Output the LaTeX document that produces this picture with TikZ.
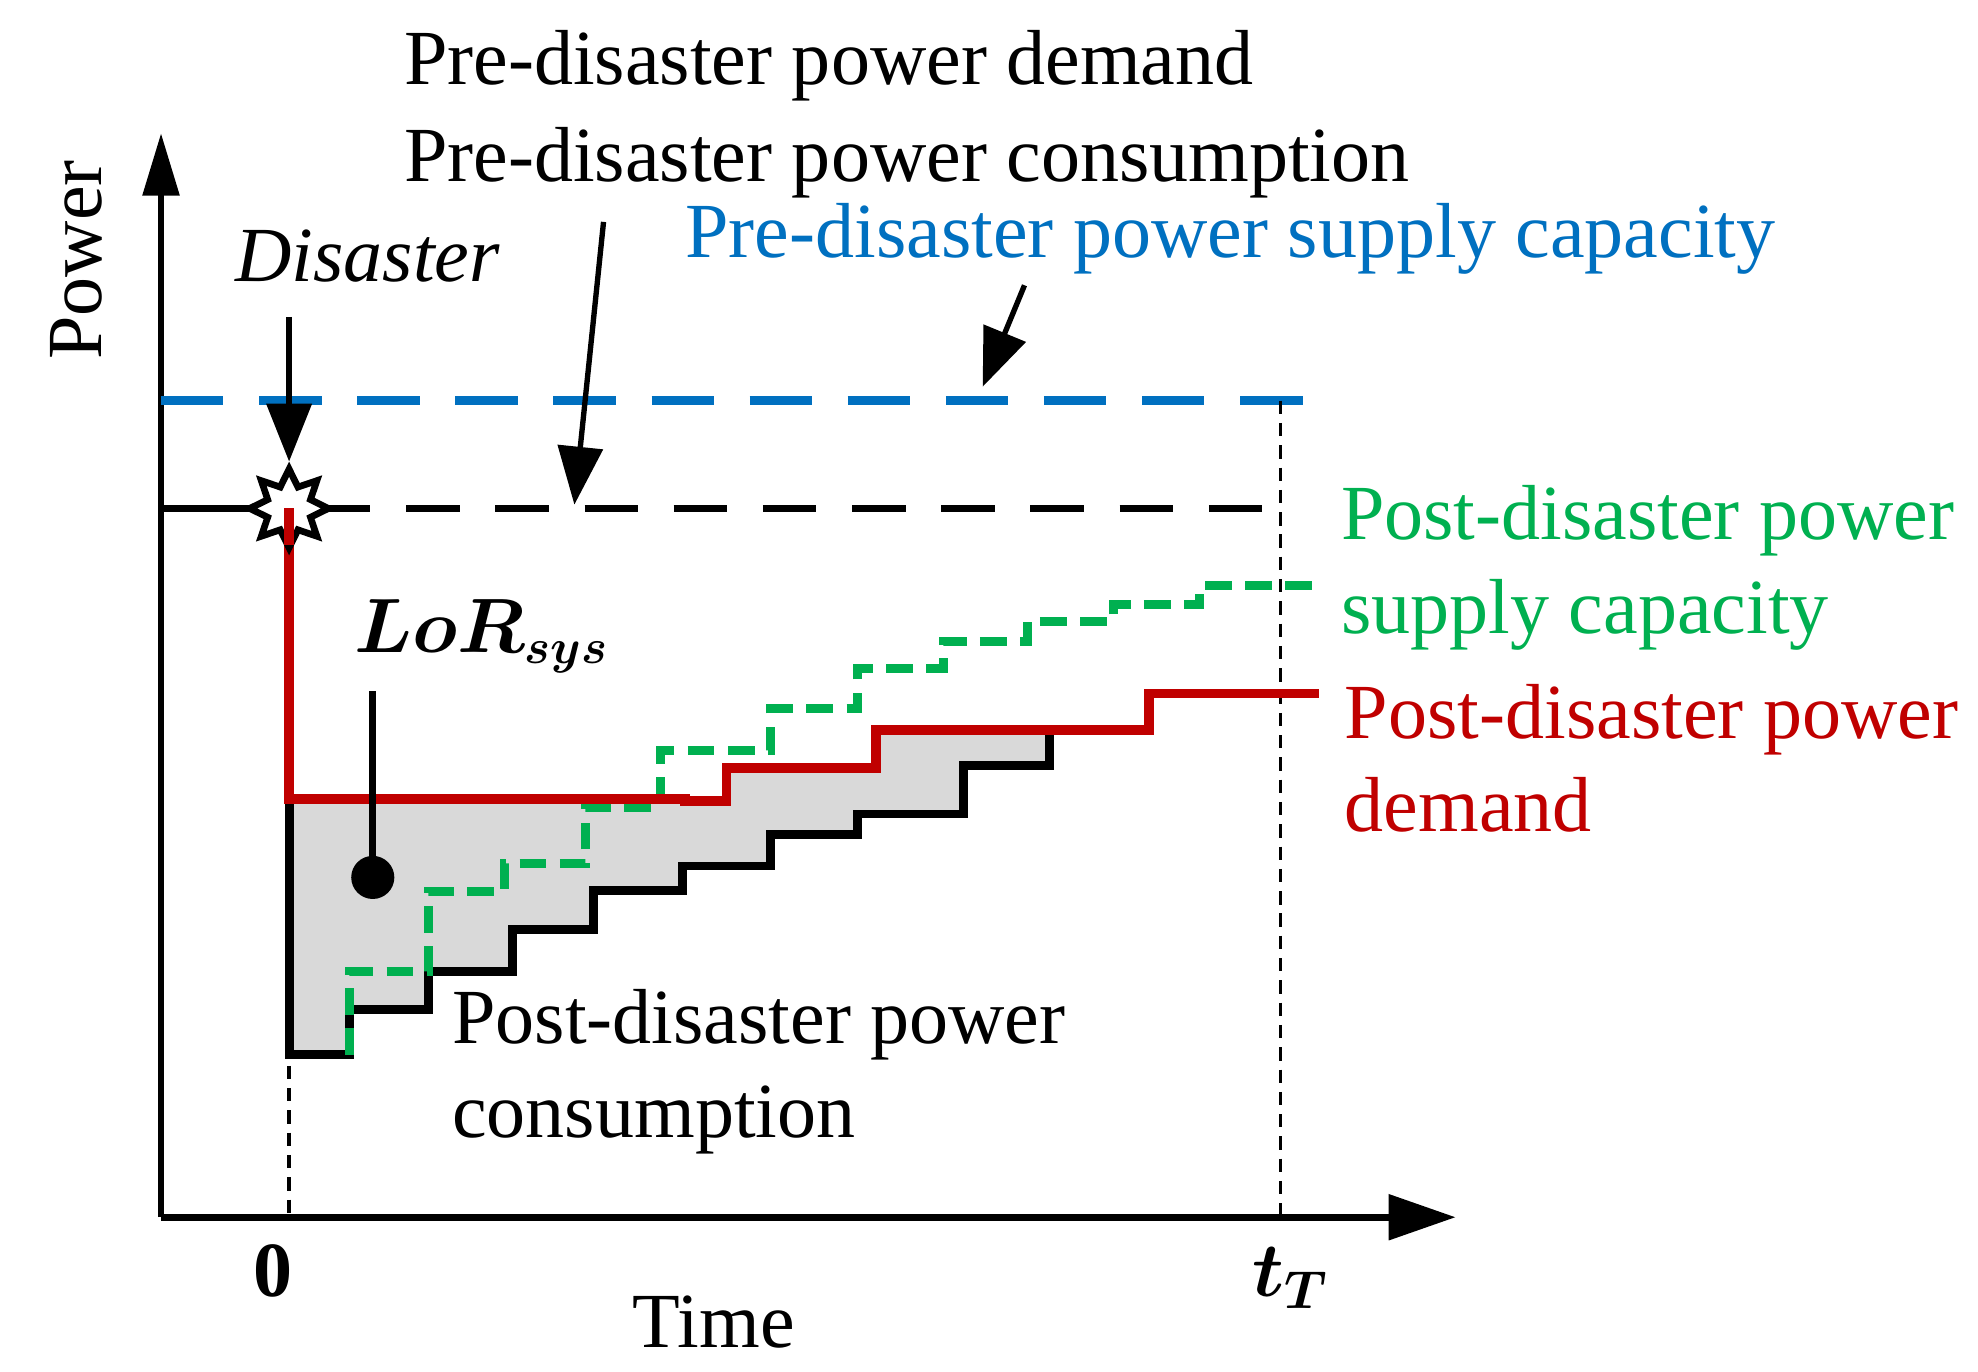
\documentclass[tikz,border=0pt]{standalone}
\usepackage{amsmath,amssymb,bm}
\usepackage{fontspec}
\setmainfont{Liberation Serif}
\usetikzlibrary{arrows.meta,shapes.geometric}
\definecolor{capblue}{RGB}{0,112,192}
\definecolor{capgreen}{RGB}{0,176,80}
\definecolor{demred}{RGB}{192,0,0}
\begin{document}
\begin{tikzpicture}[x=0.01cm, y=-0.01cm,
    every node/.style={font=\fontsize{17.5}{21}\selectfont},
    lbl/.style={anchor=west, inner sep=0pt},
    pointer/.style={-{Triangle[length=13pt,width=10pt]}, line width=1.2pt}]
  \useasboundingbox (0,0) rectangle (1560,1082);

  % Axes
  \coordinate (o) at (127,960);
  \coordinate (ytip) at (127,105);
  \coordinate (xtip) at (1148,960);
  \draw[line width=1.5pt, -{Triangle[length=14pt,width=8pt]}] (o) -- (ytip);
  \draw[line width=1.5pt, -{Triangle[length=15pt,width=10pt]}] (o) -- (xtip);

  % Pre-disaster levels
  \draw[capblue, line width=2pt, dash pattern=on 14pt off 8pt] (127,316) -- (1052,316);
  \draw[line width=1.5pt] (127,401) -- (205,401);
  \draw[line width=1.5pt, dash pattern=on 12pt off 8pt] (250,401) -- (1020,401);

  % Time markers
  \draw[densely dashed, line width=0.8pt] (228,401) -- (228,960);
  \draw[densely dashed, line width=0.8pt] (1010,316) -- (1010,960);

  % Loss of resilience area
  \fill[gray!30] (228,630) -- (540,630) -- (540,632) -- (573,632) -- (573,606)
    -- (691,606) -- (691,576) -- (828,576) -- (828,604) -- (760,604) -- (760,642)
    -- (676,642) -- (676,658) -- (608,658) -- (608,683) -- (538,683) -- (538,702)
    -- (468,702) -- (468,733) -- (404,733) -- (404,766) -- (338,766) -- (338,796)
    -- (276,796) -- (276,832) -- (228,832) -- cycle;

  % Post-disaster consumption
  \draw[line width=2pt] (228,630) -- (228,832) -- (276,832) -- (276,796) -- (338,796)
    -- (338,766) -- (404,766) -- (404,733) -- (468,733) -- (468,702) -- (538,702)
    -- (538,683) -- (608,683) -- (608,658) -- (676,658) -- (676,642) -- (760,642)
    -- (760,604) -- (828,604) -- (828,576);

  % Post-disaster supply capacity
  \draw[capgreen, line width=2pt, dash pattern=on 6pt off 3pt] (276,832) -- (276,766)
    -- (338,766) -- (338,703) -- (398,703) -- (398,681) -- (462,681) -- (462,637)
    -- (521,637) -- (521,592) -- (608,592) -- (608,559) -- (676,559) -- (676,527)
    -- (744,527) -- (744,506) -- (810,506) -- (810,490) -- (878,490) -- (878,477)
    -- (946,477) -- (946,462) -- (1040,462);

  % Post-disaster demand
  \draw[demred, line width=2.2pt] (228,401) -- (228,630) -- (540,630) -- (540,632)
    -- (573,632) -- (573,606) -- (691,606) -- (691,576) -- (906,576) -- (906,547)
    -- (1040,547);

  % Disaster star
  \node[star, star points=8, star point ratio=1.7, draw, line width=1.5pt, fill=white,
    minimum size=0.62cm, inner sep=0pt] (star) at (228,401) {};
  \draw[demred, line width=2.2pt] (228,401) -- (228,430);

  % Labels
  \node[rotate=90] (power) at (60,205) {Power};
  \node (time) at (563,1043) {Time};
  \node (zero) at (215,1002) {\textbf{0}};
  \node (tT) at (1018,1008) {$\bm{t_T}$};
  \node (disaster) at (290,202) {\textit{Disaster}};
  \node[lbl] (predem) at (318,52) {Pre-disaster power demand};
  \node[lbl] (precon) at (318,128) {Pre-disaster power consumption};
  \node[lbl, text=capblue] (precap) at (540,188) {Pre-disaster power supply capacity};
  \node[lbl, text=capgreen, align=left] (postcap) at (1057,448)
    {Post-disaster power\\supply capacity};
  \node[lbl, text=demred, align=left] (postdem) at (1060,598)
    {Post-disaster power\\demand};
  \node[lbl, align=left] (postcon) at (356,845)
    {Post-disaster power\\consumption};
  \node[font=\fontsize{16}{19}\selectfont] (lor) at (380,502) {$\bm{LoR_{sys}}$};

  % Pointers
  \coordinate (dis0) at (228,250);
  \coordinate (con0) at (476,175);
  \coordinate (con1) at (453,398);
  \coordinate (cap0) at (808,225);
  \coordinate (cap1) at (775,305);
  \draw[pointer] (dis0) -- (star.north);
  \draw[pointer] (con0) -- (con1);
  \draw[pointer] (cap0) -- (cap1);
  \fill (294,692) circle (17) coordinate (lordot);
  \coordinate (lor0) at (294,545);
  \draw[line width=1.5pt] (lor0) -- (lordot);
\end{tikzpicture}
\end{document}
